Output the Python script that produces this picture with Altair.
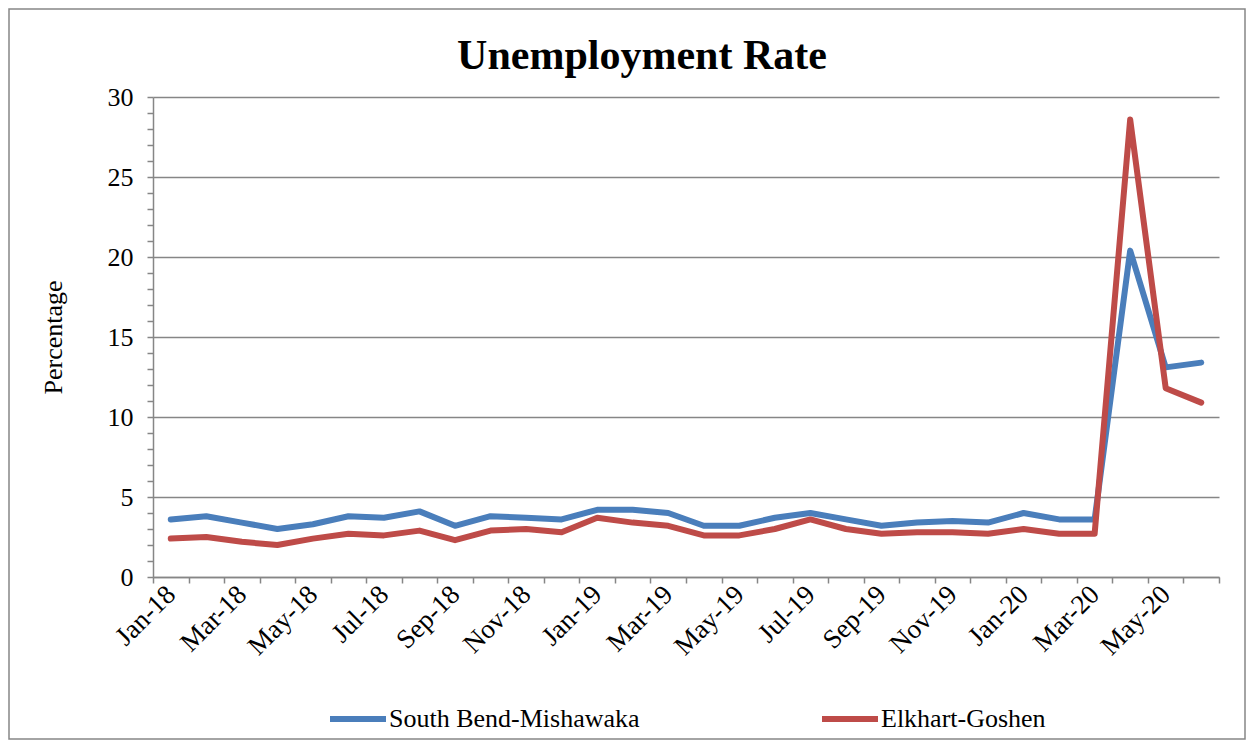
import altair as alt
import pandas as pd

months = ["Jan-18", "Feb-18", "Mar-18", "Apr-18", "May-18", "Jun-18", "Jul-18", "Aug-18",
          "Sep-18", "Oct-18", "Nov-18", "Dec-18", "Jan-19", "Feb-19", "Mar-19", "Apr-19",
          "May-19", "Jun-19", "Jul-19", "Aug-19", "Sep-19", "Oct-19", "Nov-19", "Dec-19",
          "Jan-20", "Feb-20", "Mar-20", "Apr-20", "May-20", "Jun-20"]

south_bend = [3.6, 3.8, 3.4, 3.0, 3.3, 3.8, 3.7, 4.1, 3.2, 3.8, 3.7, 3.6,
              4.2, 4.2, 4.0, 3.2, 3.2, 3.7, 4.0, 3.6, 3.2, 3.4, 3.5, 3.4,
              4.0, 3.6, 3.6, 20.4, 13.1, 13.4]
elkhart = [2.4, 2.5, 2.2, 2.0, 2.4, 2.7, 2.6, 2.9, 2.3, 2.9, 3.0, 2.8,
           3.7, 3.4, 3.2, 2.6, 2.6, 3.0, 3.6, 3.0, 2.7, 2.8, 2.8, 2.7,
           3.0, 2.7, 2.7, 28.6, 11.8, 10.9]

series_names = ["South Bend-Mishawaka", "Elkhart-Goshen"]
series_colors = ["#4A7EBB", "#BE4B48"]
y_ticks = list(range(0, 31))

rows = []
for m, a, b in zip(months, south_bend, elkhart):
    rows.append({"month": m, "series": series_names[0], "value": a})
    rows.append({"month": m, "series": series_names[1], "value": b})
df = pd.DataFrame(rows)

FONT = "Liberation Serif"
GRAY = "#868686"
W, H = 1066, 480

lines = alt.Chart(df).mark_line(strokeWidth=6, strokeCap="round", strokeJoin="round").encode(
    x=alt.X("month:O", sort=months, title=None,
            scale=alt.Scale(type="band", paddingInner=0, paddingOuter=0),
            axis=alt.Axis(
                labelAngle=-45, labelAlign="right", labelBaseline="middle",
                labelExpr="indexof(['Jan','Mar','May','Jul','Sep','Nov'], slice(datum.label,0,3)) >= 0 ? datum.label : ''",
                tickBand="extent", tickSize=6, tickColor=GRAY, tickWidth=1.5,
                domainColor=GRAY, domainWidth=1.5, labelPadding=7,
                labelFont=FONT, labelFontSize=27, labelColor="black",
                grid=False, labelOverlap=False)),
    y=alt.Y("value:Q", title="Percentage",
            scale=alt.Scale(domain=[0, 30], nice=False),
            axis=alt.Axis(
                values=y_ticks,
                labelExpr="datum.value % 5 === 0 ? datum.label : ''",
                grid=True, gridColor=GRAY, gridWidth=1.5,
                gridOpacity={"condition": {"test": "datum.value % 5 === 0", "value": 1}, "value": 0},
                tickSize=6, tickColor=GRAY, tickWidth=1.5,
                domainColor=GRAY, domainWidth=1.5, labelPadding=14,
                labelFont=FONT, labelFontSize=26, labelColor="black",
                titleFont=FONT, titleFontSize=26, titleFontWeight="normal", titleColor="black",
                titleX=-100, titleY=H / 2, titleBaseline="middle", titleAlign="center",
                titleAngle=-90, labelOverlap=False)),
    color=alt.Color("series:N",
                    scale=alt.Scale(domain=series_names, range=series_colors),
                    legend=alt.Legend(
                        title=None, orient="none", direction="horizontal",
                        legendX=174, legendY=591,
                        symbolType="stroke", symbolSize=3136, symbolStrokeWidth=6,
                        labelFont=FONT, labelFontSize=26, labelColor="black",
                        labelOffset=0, columnPadding=170, labelLimit=400)),
)

border = alt.Chart(pd.DataFrame({"k": [0]})).mark_rect(
    fillOpacity=0, stroke=GRAY, strokeWidth=1.5
).encode(
    x=alt.value(-144), x2=alt.value(W + 26),
    y=alt.value(-88), y2=alt.value(H + 162),
)

chart = alt.layer(border, lines).properties(
    width=W, height=H,
    title=alt.TitleParams("Unemployment Rate", font=FONT, fontSize=42, fontWeight="bold",
                          color="black", anchor="middle", frame="group", dx=-44,
                          baseline="alphabetic", offset=0, dy=103),
    padding={"left": 145, "top": 89, "right": 27, "bottom": 163},
    autosize=alt.AutoSizeParams(type="none"),
    background="white",
).configure_view(stroke=None)

chart.save("out.html", embed_options={"renderer": "svg", "actions": False})
